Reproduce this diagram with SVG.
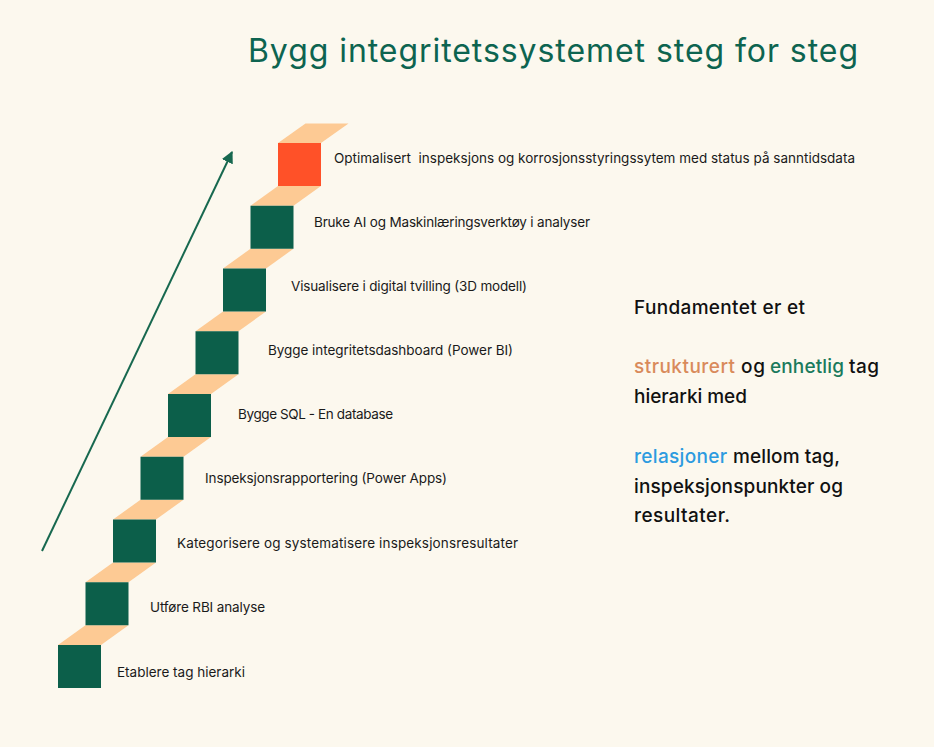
<svg xmlns="http://www.w3.org/2000/svg" width="934" height="747" viewBox="0 0 934 747">
<defs>
<style>
.bg{fill:#fcf8ee}
.tread{fill:#fdca94}
.sq{fill:#0c5f4a}
.sq-top{fill:#ff5128}
.lbl{font-family:Inter,"Liberation Sans",sans-serif;font-size:13.5px;fill:#1a1a1a}
.title{font-family:Inter,"Liberation Sans",sans-serif;font-size:32px;fill:#0d6450}
.side{font-family:Inter,"Liberation Sans",sans-serif;font-size:19px;font-weight:500;fill:#111}
.c-or{fill:#d98a5b}
.c-gr{fill:#1a7a5c}
.c-bl{fill:#2c9be0}
.arrow{stroke:#17684f;stroke-width:2;fill:none}
</style>
<marker id="ah" viewBox="0 0 10 10" refX="9" refY="5" markerWidth="6" markerHeight="6" orient="auto" markerUnits="strokeWidth">
<path d="M0,0 L10,5 L0,10 z" fill="#17684f"/>
</marker>
</defs>
<rect class="bg" x="0" y="0" width="934" height="747"/>
<text class="title" x="248" y="62" textLength="610">Bygg integritetssystemet steg for steg</text>
<g id="connectors">
<line class="arrow" x1="42" y1="551" x2="232" y2="152" marker-end="url(#ah)"/>
</g>
<g id="stairs">
<polygon class="tread" points="58,645 101,645 128.5,625.25 85.5,625.25"/>
<polygon class="tread" points="85.5,582.25 128.5,582.25 156,562.5 113,562.5"/>
<polygon class="tread" points="113,519.5 156,519.5 183.5,499.75 140.5,499.75"/>
<polygon class="tread" points="140.5,456.75 183.5,456.75 211,437 168,437"/>
<polygon class="tread" points="168,394 211,394 238.5,374.25 195.5,374.25"/>
<polygon class="tread" points="195.5,331.25 238.5,331.25 266,311.5 223,311.5"/>
<polygon class="tread" points="223,268.5 266,268.5 293.5,248.75 250.5,248.75"/>
<polygon class="tread" points="250.5,205.75 293.5,205.75 321,186 278,186"/>
<polygon class="tread" points="278,143 321,143 348.5,123.5 305.5,123.5"/>
</g>
<g id="step1"><rect class="sq" x="58" y="645" width="43" height="43"/><text class="lbl" x="117" y="677" textLength="128">Etablere tag hierarki</text></g>
<g id="step2"><rect class="sq" x="85.5" y="582.25" width="43" height="43"/><text class="lbl" x="150" y="612" textLength="115">Utføre RBI analyse</text></g>
<g id="step3"><rect class="sq" x="113" y="519.5" width="43" height="43"/><text class="lbl" x="177" y="548" textLength="341">Kategorisere og systematisere inspeksjonsresultater</text></g>
<g id="step4"><rect class="sq" x="140.5" y="456.75" width="43" height="43"/><text class="lbl" x="205" y="483" textLength="242">Inspeksjonsrapportering (Power Apps)</text></g>
<g id="step5"><rect class="sq" x="168" y="394" width="43" height="43"/><text class="lbl" x="238" y="419" textLength="155">Bygge SQL - En database</text></g>
<g id="step6"><rect class="sq" x="195.5" y="331.25" width="43" height="43"/><text class="lbl" x="268" y="355" textLength="245">Bygge integritetsdashboard (Power BI)</text></g>
<g id="step7"><rect class="sq" x="223" y="268.5" width="43" height="43"/><text class="lbl" x="291" y="291" textLength="236">Visualisere i digital tvilling (3D modell)</text></g>
<g id="step8"><rect class="sq" x="250.5" y="205.75" width="43" height="43"/><text class="lbl" x="314" y="227" textLength="276">Bruke AI og Maskinlæringsverktøy i analyser</text></g>
<g id="step9"><rect class="sq-top" x="278" y="143" width="43" height="43"/><text class="lbl" x="334" y="163" textLength="521" xml:space="preserve">Optimalisert  inspeksjons og korrosjonsstyringssytem med status på sanntidsdata</text></g>
<g id="side-text">
<text class="side" x="634" y="314" textLength="171">Fundamentet er et</text>
<text class="side" y="373"><tspan class="c-or" x="634" textLength="101">strukturert</tspan><tspan x="741" textLength="24">og</tspan><tspan class="c-gr" x="770" textLength="74">enhetlig</tspan><tspan x="849" textLength="30">tag</tspan></text>
<text class="side" x="634" y="403" textLength="113">hierarki med</text>
<text class="side" y="463"><tspan class="c-bl" x="634" textLength="93">relasjoner</tspan><tspan x="733" textLength="107">mellom tag,</tspan></text>
<text class="side" x="634" y="493" textLength="209">inspeksjonspunkter og</text>
<text class="side" x="634" y="522" textLength="96">resultater.</text>
</g>
</svg>
